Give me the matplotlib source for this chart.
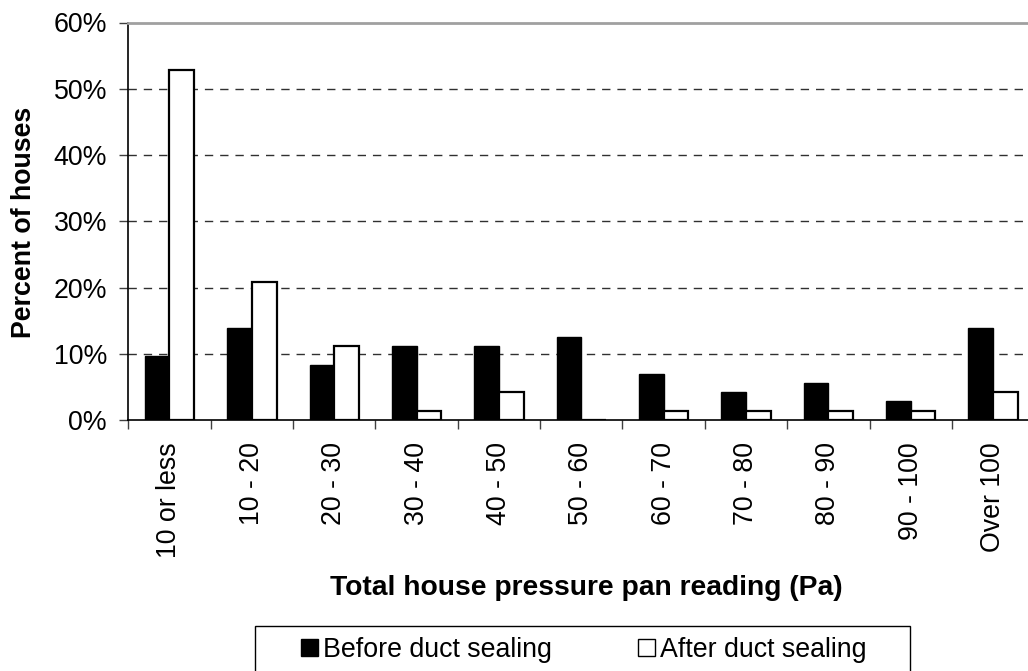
import numpy as np
import matplotlib.pyplot as plt
from matplotlib.patches import Rectangle
from matplotlib.ticker import FuncFormatter, FixedLocator

plt.rcParams["font.family"] = ["Liberation Sans", "DejaVu Sans"]

# ---------------------------------------------------------------------
# Data (percent of houses)
# ---------------------------------------------------------------------
categories = ["10 or less", "10 - 20", "20 - 30", "30 - 40", "40 - 50", "50 - 60",
              "60 - 70", "70 - 80", "80 - 90", "90 - 100", "Over 100"]
before_sealing = [9.7, 13.9, 8.3, 11.1, 11.1, 12.5, 6.9, 4.2, 5.6, 2.8, 13.9]
after_sealing = [52.8, 20.8, 11.1, 1.4, 4.2, 0.0, 1.4, 1.4, 1.4, 1.4, 4.2]

# ---------------------------------------------------------------------
# Figure
# ---------------------------------------------------------------------
W, H = 1028, 671
fig = plt.figure(figsize=(W / 100, H / 100), dpi=100)
ax = fig.add_axes([128.3 / W, (H - 420) / H, 906 / W, 397.5 / H])

x = np.arange(len(categories))
bw = 0.3
ax.bar(x - bw / 2, before_sealing, bw, color="black", edgecolor="black",
       linewidth=1.0, label="Before duct sealing", zorder=3)
ax.bar(x + bw / 2, after_sealing, bw, color="white", edgecolor="black",
       linewidth=1.6, label="After duct sealing", zorder=3)

ax.set_xlim(-0.5, len(categories) - 0.5)
ax.set_ylim(0, 60)
ax.set_yticks(np.arange(0, 61, 10))
ax.yaxis.set_major_formatter(FuncFormatter(lambda v, _: f"{v:.0f}%"))

# gridlines at 10..50 %
for gy in range(10, 60, 10):
    ax.axhline(gy, color="#303030", linewidth=1.0, dashes=(6, 5), zorder=1)

ax.set_xticks(x)
ax.set_xticklabels(categories, rotation=90, va="top")
ax.xaxis.set_minor_locator(FixedLocator(np.arange(-0.5, len(categories), 1.0)))
ax.tick_params(axis="x", which="major", length=0, pad=16, labelsize=19.3)
ax.tick_params(axis="x", which="minor", length=6.3, width=1.0, color="#404040")
ax.tick_params(axis="y", length=6.3, width=1.0, pad=9, labelsize=19.3,
               color="#404040")

ax.spines["right"].set_visible(False)
ax.spines["top"].set_color("#a0a0a0")
ax.spines["top"].set_linewidth(2.0)
ax.spines["left"].set_linewidth(1.2)
ax.spines["bottom"].set_linewidth(1.2)

fig.text(24 / W, 1 - 222 / H, "Percent of houses", rotation=90, ha="center",
         va="center", fontsize=19.3, fontweight="bold")
fig.text(586 / W, 1 - 588 / H, "Total house pressure pan reading (Pa)",
         ha="center", va="center", fontsize=20.3, fontweight="bold")

# legend: frame box running off the bottom edge, entries inside it
fig.add_artist(Rectangle((255 / W, 1 - 690 / H), (910 - 255) / W, (690 - 626) / H,
                         transform=fig.transFigure, fill=False,
                         edgecolor="black", linewidth=1.0))
leg = fig.legend(loc="center left", bbox_to_anchor=(301 / W, 1 - 650 / H),
                 ncol=2, fontsize=19.3, frameon=False,
                 handlelength=0.63, handleheight=0.63,
                 handletextpad=0.2, columnspacing=3.2, borderpad=0,
                 borderaxespad=0)
for p in leg.get_patches():
    p.set_linewidth(1.0)

fig.savefig("out.png", dpi=100)
